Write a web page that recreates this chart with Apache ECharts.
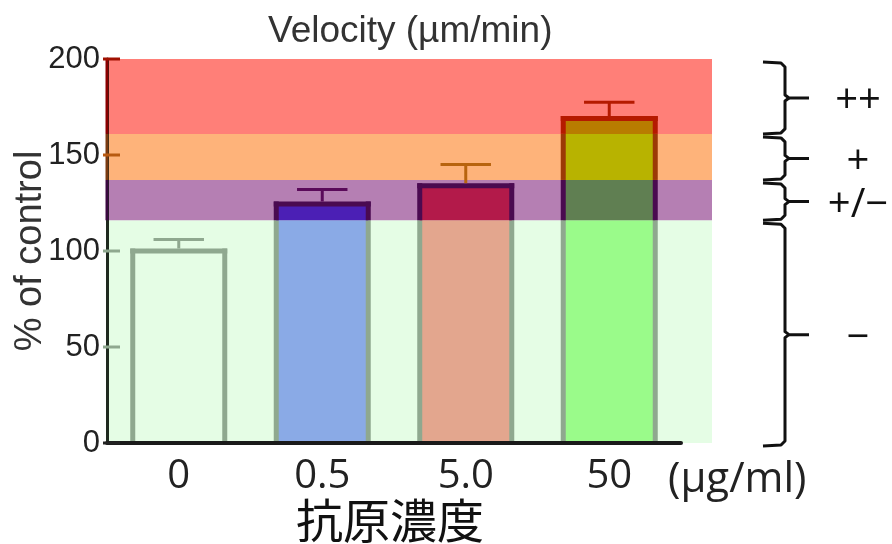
<!DOCTYPE html>
<html><head><meta charset="utf-8">
<script src="https://cdn.jsdelivr.net/npm/echarts@6/dist/echarts.min.js"></script>
<style>html,body{margin:0;padding:0;background:#fff}#c{width:892px;height:544px}</style>
</head><body><div id="c"></div>
<script>
// ---- data ----
const categories = ['0', '0.5', '5.0', '50'];
const velocity = [100, 124.5, 134, 169];
const errors = [6, 7.5, 11, 8.5];
const bandLower = [0, 116, 137, 161];
const bandUpper = [116, 137, 161, 200];
const bandLabels = ['−', '+/−', '+', '++'];
const yTicks = [0, 50, 100, 150, 200];

// ---- styles ----
const bandColors = ['#e5fde5', '#b57fb3', '#feb37a', '#ff7f78'];
const barFills = [
  ['#e5fde5'],
  ['#8aaae6', '#4b1fb5'],
  ['#e3a68e', '#b31a4a'],
  ['#9afb8a', '#607f52', '#b8b300', '#b87c00']
];
const borderColors = ['#8fa88f', '#4a0a50', '#9c3a06', '#b51a00'];
const errColors = ['#8fa88f', '#5a0a5a', '#b8640e', '#b51a00'];
const axisSegColors = ['#1f2a1f', '#3a0840', '#7a3a10', '#8a0000'];
const tickColors = ['#8fa88f', '#5a0a5a', '#b85a10', '#a01000'];

function bandOf(v) {
  for (let k = bandLower.length - 1; k >= 0; k--) if (v >= bandLower[k]) return k;
  return 0;
}

function renderBar(params, api) {
  const i = api.value(0), v = api.value(1), e = api.value(2);
  const base = api.coord([i, 0]);
  const xc = base[0];
  const bw = api.size([1, 0])[0] * 0.676;
  const lw = 5;
  const xl = xc - bw / 2 + lw / 2, xr = xc + bw / 2 - lw / 2;
  const children = [];
  const fills = barFills[i];
  for (let k = 0; k < bandLower.length; k++) {
    const lo = bandLower[k], hi = Math.min(bandUpper[k], v);
    if (hi <= lo) continue;
    const yl = api.coord([i, lo])[1], yh = api.coord([i, hi])[1];
    children.push({type: 'rect', shape: {x: xl, y: yh, width: xr - xl, height: yl - yh}, style: {fill: fills[k]}});
    const yEnd = (hi === v) ? yh - lw / 2 : yh;
    children.push({type: 'line', shape: {x1: xl, y1: yl, x2: xl, y2: yEnd}, style: {stroke: borderColors[k], lineWidth: lw}});
    children.push({type: 'line', shape: {x1: xr, y1: yl, x2: xr, y2: yEnd}, style: {stroke: borderColors[k], lineWidth: lw}});
  }
  const yt = api.coord([i, v])[1];
  children.push({type: 'line', shape: {x1: xl - lw / 2, y1: yt, x2: xr + lw / 2, y2: yt}, style: {stroke: borderColors[bandOf(v)], lineWidth: lw}});
  const ye = api.coord([i, v + e])[1];
  const ec = errColors[bandOf(v + e)];
  const cap = bw * 0.26;
  children.push({type: 'line', shape: {x1: xc, y1: yt - lw / 2, x2: xc, y2: ye}, style: {stroke: ec, lineWidth: 3}});
  children.push({type: 'line', shape: {x1: xc - cap, y1: ye, x2: xc + cap, y2: ye}, style: {stroke: ec, lineWidth: 3}});
  return {type: 'group', children};
}

function renderBand(params, api) {
  const lo = api.value(0), hi = api.value(1), k = api.value(2);
  const p0 = api.coord([0, lo]), p1 = api.coord([1, hi]);
  return {type: 'rect', shape: {x: p0[0], y: p1[1], width: p1[0] - p0[0], height: p0[1] - p1[1]}, style: {fill: bandColors[k]}};
}

function renderAxisSeg(params, api) {
  const lo = api.value(0), hi = api.value(1), k = api.value(2);
  if (k === 0) return {type: 'group', children: []};
  const x = params.coordSys.x;
  const y0 = api.coord([0, lo])[1], y1 = api.coord([0, hi])[1];
  return {type: 'line', shape: {x1: x, y1: y0, x2: x, y2: y1}, style: {stroke: axisSegColors[k], lineWidth: 3}};
}

function renderTick(params, api) {
  const t = api.value(0);
  const x = params.coordSys.x;
  const y = api.coord([0, t])[1];
  const col = t === 0 ? '#222' : tickColors[bandOf(t)];
  return {type: 'line', shape: {x1: x - 4, y1: y, x2: x + 13, y2: y}, style: {stroke: col, lineWidth: 3}};
}

function renderBrace(params, api) {
  const lo = api.value(0), hi = api.value(1), k = api.value(2);
  const xv = params.coordSys.x + 45;
  const yTop = api.coord([0, hi])[1] + 4;
  const yBot = lo === 0 ? api.coord([0, lo])[1] + 2 : api.coord([0, lo])[1] - 1;
  const mid = (yTop + yBot) / 2;
  const st = {stroke: '#111', lineWidth: 3, fill: null, lineJoin: 'round'};
  return {type: 'group', children: [
    {type: 'polyline', shape: {points: [[xv - 22, yTop - 1], [xv - 4, yTop], [xv, yTop + 4], [xv, mid - 3], [xv + 4, mid], [xv + 24, mid]]}, style: st},
    {type: 'polyline', shape: {points: [[xv + 4, mid], [xv, mid + 3], [xv, yBot - 4], [xv - 4, yBot], [xv - 22, yBot + 1]]}, style: st},
    {type: 'text', x: params.coordSys.x + 118, y: mid + 4, style: {text: bandLabels[k], fill: '#111', font: '40px "Open Sans"', align: 'center', verticalAlign: 'middle'}}
  ]};
}

const bandData = bandLower.map((lo, k) => [lo, bandUpper[k], k]);

const chart = echarts.init(document.getElementById('c'), null, {renderer: 'canvas'});
chart.setOption({
  animation: false,
  backgroundColor: '#fff',
  title: [
    {text: 'Velocity (µm/min)', left: 268, top: 13, padding: 0, textStyle: {fontFamily: 'Liberation Sans', fontSize: 37, fontWeight: 'normal', color: '#333'}},
    {text: '(µg/ml)', left: 668, top: 459, padding: 0, textStyle: {fontFamily: 'Open Sans', fontSize: 42, fontWeight: 'normal', color: '#222'}},
    {text: '抗原濃度', left: 296, top: 497, padding: 0, textStyle: {fontFamily: 'Noto Sans CJK JP', fontSize: 47, fontWeight: 'normal', color: '#111'}}
  ],
  grid: [
    {left: 107, width: 574, top: 59, height: 384, outerBoundsMode: 'none', containLabel: false},
    {left: 107, width: 605, top: 59, height: 384, outerBoundsMode: 'none', containLabel: false},
    {left: 740, width: 140, top: 59, height: 384, outerBoundsMode: 'none', containLabel: false}
  ],
  xAxis: [
    {gridIndex: 0, type: 'category', data: categories, z: 5,
     axisLine: {lineStyle: {color: '#1a1a1a', width: 4}}, axisTick: {show: false},
     axisLabel: {fontFamily: 'Open Sans', fontSize: 40, color: '#222', margin: 14}},
    {gridIndex: 1, type: 'value', min: 0, max: 1, show: false},
    {gridIndex: 2, type: 'value', min: 0, max: 1, show: false}
  ],
  yAxis: [
    {gridIndex: 0, type: 'value', min: 0, max: 200, interval: 50, z: 5,
     splitLine: {show: false},
     axisLine: {show: true, lineStyle: {color: '#1f2a1f', width: 3}}, axisTick: {show: false},
     axisLabel: {fontFamily: 'Liberation Sans', fontSize: 31, color: '#222', margin: 7},
     name: '% of control', nameLocation: 'middle', nameGap: 57, nameMoveOverlap: false,
     nameTextStyle: {fontFamily: 'Liberation Sans', fontSize: 38, color: '#333'}},
    {gridIndex: 1, type: 'value', min: 0, max: 200, show: false},
    {gridIndex: 2, type: 'value', min: 0, max: 200, show: false}
  ],
  series: [
    {type: 'custom', xAxisIndex: 1, yAxisIndex: 1, z: 1, data: bandData, encode: {y: [0, 1]}, renderItem: renderBand, silent: true},
    {type: 'custom', xAxisIndex: 0, yAxisIndex: 0, z: 3, data: velocity.map((v, i) => [i, v, errors[i]]), encode: {x: 0, y: 1}, renderItem: renderBar},
    {type: 'custom', xAxisIndex: 1, yAxisIndex: 1, z: 8, data: bandData, encode: {y: [0, 1]}, renderItem: renderAxisSeg, silent: true},
    {type: 'custom', xAxisIndex: 1, yAxisIndex: 1, z: 8, data: yTicks.map(t => [t]), encode: {y: 0}, renderItem: renderTick, silent: true},
    {type: 'custom', xAxisIndex: 2, yAxisIndex: 2, z: 3, data: bandData, encode: {y: [0, 1]}, renderItem: renderBrace, silent: true, clip: false}
  ]
});
</script></body></html>
